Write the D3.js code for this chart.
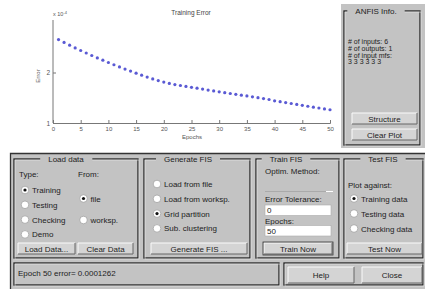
<!DOCTYPE html>
<html>
<head>
<meta charset="utf-8">
<script src="https://cdn.jsdelivr.net/npm/d3@7"></script>
<style>
  body { margin: 0; background: #fff; }
  svg { display: block; }
</style>
</head>
<body>
<div id="chart"></div>
<script>
// training error per epoch, in units of 1e-4
const trainingError = [
  2.653, 2.596, 2.541, 2.487, 2.436, 2.386, 2.337, 2.289, 2.244, 2.198,
  2.154, 2.111, 2.069, 2.028, 1.986, 1.947, 1.909, 1.873, 1.840, 1.810,
  1.784, 1.762, 1.743, 1.725, 1.707, 1.689, 1.671, 1.653, 1.636, 1.618,
  1.600, 1.584, 1.568, 1.552, 1.537, 1.519, 1.501, 1.483, 1.465, 1.440,
  1.422, 1.404, 1.386, 1.368, 1.350, 1.332, 1.314, 1.297, 1.279, 1.262
];
const xTicks = [0, 5, 10, 15, 20, 25, 30, 35, 40, 45, 50];
const yTicks = [1, 2];

const infoLines = ["# of inputs: 6", "# of outputs: 1", "# of input mfs:", "3 3 3 3 3 3"];
const typeOptions = ["Training", "Testing", "Checking", "Demo"];
const fromOptions = ["file", "worksp."];
const genOptions = ["Load from file", "Load from worksp.", "Grid partition", "Sub. clustering"];
const testOptions = ["Training data", "Testing data", "Checking data"];
const statusText = "Epoch 50 error= 0.0001262";

const width = 425, height = 289;
const font = "Liberation Sans, Arial, sans-serif";
const gray = "#c3c3c3";
const fs = 8;

const svg = d3.select("#chart").append("svg")
  .attr("width", width)
  .attr("height", height)
  .attr("font-family", font);

// ---- plot ----
const x = d3.scaleLinear().domain([0, 50]).range([53, 330]);
const y = d3.scaleLinear().domain([1, 3.04]).range([123, 20]);

const plot = svg.append("g");

plot.append("g")
  .attr("transform", "translate(0,123)")
  .call(d3.axisBottom(x).tickValues(xTicks).tickSize(-3).tickPadding(4))
  .call(g => g.select(".domain").attr("stroke", "#777"))
  .call(g => g.selectAll(".tick line").attr("stroke", "#777"))
  .call(g => g.selectAll("text").attr("font-size", 6).attr("fill", "#555").attr("font-family", font));

plot.append("g")
  .attr("transform", "translate(53,0)")
  .call(d3.axisLeft(y).tickValues(yTicks).tickFormat(d3.format("d")).tickSize(-3).tickPadding(3))
  .call(g => g.select(".domain").attr("stroke", "#777").attr("d", "M0,20V123"))
  .call(g => g.selectAll(".tick line").attr("stroke", "#777"))
  .call(g => g.selectAll("text").attr("font-size", 6.5).attr("fill", "#555").attr("font-family", font));

plot.selectAll("circle.pt")
  .data(trainingError)
  .join("circle")
  .attr("class", "pt")
  .attr("cx", (d, i) => x(i + 1))
  .attr("cy", d => y(d))
  .attr("r", 1.6)
  .attr("fill", "#5a5ad4");

plot.append("text")
  .attr("x", 191).attr("y", 15)
  .attr("text-anchor", "middle")
  .attr("font-size", 6.5).attr("fill", "#444")
  .text("Training Error");

const mult = plot.append("text")
  .attr("x", 53).attr("y", 16)
  .attr("font-size", 5.5).attr("fill", "#555");
mult.append("tspan").text("x 10");
mult.append("tspan").attr("dy", -2.5).attr("font-size", 4).text("-4");

plot.append("text")
  .attr("transform", "translate(40,76) rotate(-90)")
  .attr("text-anchor", "middle")
  .attr("font-size", 6).attr("fill", "#555")
  .text("Error");

plot.append("text")
  .attr("x", 192).attr("y", 139)
  .attr("text-anchor", "middle")
  .attr("font-size", 6).attr("fill", "#555")
  .text("Epochs");

// ---- helpers ----
function frame(x0, y0, w, h, title, tx) {
  svg.append("rect")
    .attr("x", x0).attr("y", y0).attr("width", w).attr("height", h)
    .attr("fill", "none").attr("stroke", "#222").attr("stroke-width", 1.3);
  svg.append("rect")
    .attr("x", x0 + 1).attr("y", y0 + 1).attr("width", w).attr("height", h)
    .attr("fill", "none").attr("stroke", "#eee").attr("stroke-width", 0.6);
  if (title) {
    const t = svg.append("text")
      .attr("x", tx != null ? tx : x0 + w / 2).attr("y", y0 + 3)
      .attr("text-anchor", "middle")
      .attr("font-size", fs).attr("fill", "#222")
      .text(title);
    const bb = t.node().getBBox();
    svg.insert("rect", () => t.node())
      .attr("x", bb.x - 8).attr("y", y0 - 2).attr("width", bb.width + 16).attr("height", 5)
      .attr("fill", gray);
  }
}

function button(x0, y0, w, h, label, focused) {
  const g = svg.append("g");
  g.append("rect")
    .attr("x", x0).attr("y", y0).attr("width", w).attr("height", h)
    .attr("fill", "#d4d4d4");
  g.append("path")
    .attr("d", `M${x0},${y0 + h}V${y0}H${x0 + w}`)
    .attr("fill", "none").attr("stroke", "#fafafa").attr("stroke-width", 1);
  g.append("path")
    .attr("d", `M${x0},${y0 + h}H${x0 + w}V${y0}`)
    .attr("fill", "none").attr("stroke", "#666").attr("stroke-width", 1);
  if (focused) {
    g.append("rect")
      .attr("x", x0 - 1).attr("y", y0 - 1).attr("width", w + 2).attr("height", h + 2)
      .attr("fill", "none").attr("stroke", "#333").attr("stroke-width", 0.8);
  }
  g.append("text")
    .attr("x", x0 + w / 2).attr("y", y0 + h / 2 + 3)
    .attr("text-anchor", "middle")
    .attr("font-size", fs).attr("fill", "#222")
    .text(label);
}

function radio(cx, cy, label, on) {
  svg.append("circle")
    .attr("cx", cx).attr("cy", cy).attr("r", 3.8)
    .attr("fill", "#fff").attr("stroke", "#999").attr("stroke-width", 0.7);
  if (on) {
    svg.append("circle").attr("cx", cx).attr("cy", cy).attr("r", 1.6).attr("fill", "#111");
  }
  svg.append("text")
    .attr("x", cx + 7).attr("y", cy + 3)
    .attr("font-size", fs).attr("fill", "#222")
    .text(label);
}

function label(x0, y0, txt, size) {
  svg.append("text")
    .attr("x", x0).attr("y", y0)
    .attr("font-size", size || fs).attr("fill", "#222")
    .text(txt);
}

function editBox(x0, y0, w, h, txt) {
  svg.append("rect")
    .attr("x", x0).attr("y", y0).attr("width", w).attr("height", h)
    .attr("fill", "#fff").attr("stroke", "#aaa").attr("stroke-width", 0.6);
  label(x0 + 2, y0 + h / 2 + 3, txt);
}

// ---- ANFIS Info panel ----
svg.append("rect")
  .attr("x", 341).attr("y", 4).attr("width", 84).attr("height", 144)
  .attr("fill", gray);
frame(344, 11, 76, 134, "ANFIS Info.", 376);
infoLines.forEach((t, i) => label(348, 44 + i * 6.8, t, 7));
button(352, 113, 65, 11, "Structure");
button(352, 129, 65, 11, "Clear Plot");

// ---- bottom panel ----
svg.append("rect")
  .attr("x", 10).attr("y", 153).attr("width", 415).attr("height", 136)
  .attr("fill", gray);
svg.append("path")
  .attr("d", "M10.5,289V153.5H425")
  .attr("fill", "none").attr("stroke", "#333").attr("stroke-width", 1.3);

// Load data
frame(14, 159, 124, 99, "Load data", 66);
label(19, 177, "Type:");
label(78, 177, "From:");
typeOptions.forEach((t, i) => radio(25, 190 + i * 14.8, t, i === 0));
fromOptions.forEach((t, i) => radio(83.5, 198.5 + i * 21.5, t, i === 0));
button(18, 243, 57, 11, "Load Data...");
button(78, 243, 55, 11, "Clear Data");

// Generate FIS
frame(144, 159, 106, 99, "Generate FIS", 188);
genOptions.forEach((t, i) => radio(157, 184 + i * 14.8, t, i === 2));
button(151, 243, 96, 11, "Generate FIS ...");

// Train FIS
frame(256, 159, 83, 99, "Train FIS", 286);
label(265, 174, "Optim. Method:");
svg.append("line")
  .attr("x1", 265).attr("x2", 333).attr("y1", 191.5).attr("y2", 191.5)
  .attr("stroke", "#aaa").attr("stroke-width", 1);
svg.append("line")
  .attr("x1", 326).attr("x2", 333).attr("y1", 191.5).attr("y2", 191.5)
  .attr("stroke", "#fff").attr("stroke-width", 1);
label(265, 202, "Error Tolerance:");
editBox(265, 205, 66, 10.5, "0");
label(265, 224, "Epochs:");
editBox(265, 225.5, 66, 10.5, "50");
button(264, 243, 68, 11, "Train Now", true);

// Test FIS
frame(344, 159, 79, 99, "Test FIS", 383);
label(348, 188, "Plot against:");
testOptions.forEach((t, i) => radio(354, 198.5 + i * 15, t, i === 0));
button(347, 243, 75, 11, "Test Now");

// status bar
frame(14, 263, 265, 22);
label(18, 276, statusText);

frame(284, 263, 139, 22);
button(288, 267, 66, 16, "Help");
button(362, 267, 60, 16, "Close");
</script>
</body>
</html>
